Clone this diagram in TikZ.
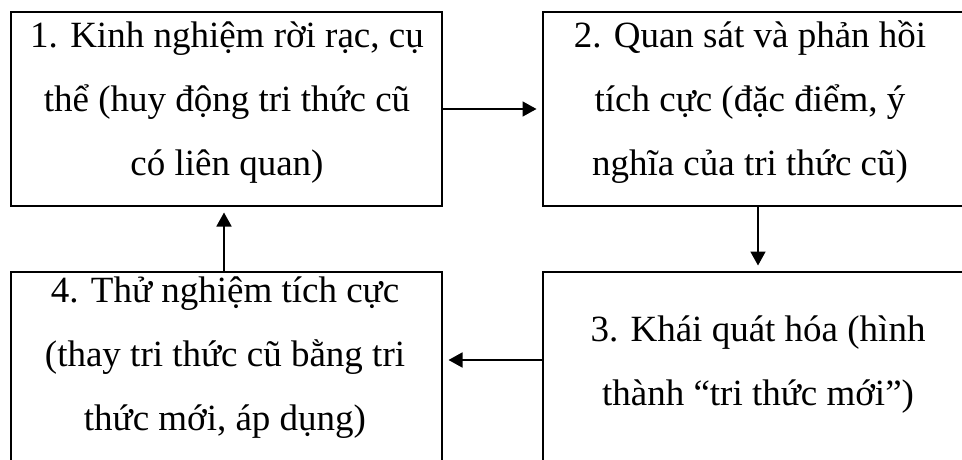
\documentclass[tikz,border=0pt]{standalone}
\usepackage{fontspec}
\setmainfont{Liberation Serif}
\usetikzlibrary{arrows.meta}
\begin{document}
\begin{tikzpicture}[x=1pt,y=-1pt,
  stagebox/.style={draw, line width=2pt, rectangle, inner sep=0pt, outer sep=0pt, anchor=north west},
  stagetext/.style={align=center, inner sep=0pt, anchor=base, font=\fontsize{37}{64}\selectfont},
  flow/.style={line width=1.8pt, -{Triangle[length=14pt,width=15pt]}, shorten >=6.5pt}]
\useasboundingbox (0,0) rectangle (962,460);
\fill[white] (0,0) rectangle (962,460);
\clip (0,0) rectangle (962,460);

% the four stages of the cycle
\node[stagebox, minimum width=431pt, minimum height=194pt] (b1) at (11,12) {};
\node[stagebox, minimum width=430pt, minimum height=194pt] (b2) at (543,12) {};
\node[stagebox, minimum width=430pt, minimum height=200pt] (b3) at (543,272) {};
\node[stagebox, minimum width=431pt, minimum height=200pt] (b4) at (11,272) {};

% texts, placed by the baseline of their last line
\node[stagetext] (t1) at (227,175) {1. Kinh nghiệm rời rạc, cụ\\thể (huy động tri thức cũ\\có liên quan)};
\node[stagetext] (t2) at (750,175) {2. Quan sát và phản hồi\\tích cực (đặc điểm, ý\\nghĩa của tri thức cũ)};
\node[stagetext] (t3) at (758,405) {3. Khái quát hóa (hình\\thành “tri thức mới”)};
\node[stagetext] (t4) at (225,430) {4. Thử nghiệm tích cực\\(thay tri thức cũ bằng tri\\thức mới, áp dụng)};

% connectors
\path (b2.south west) ++(215,0) coordinate (c23);
\path (b3.north west) ++(0,88) coordinate (c34);
\path (b4.north west) ++(213,0) coordinate (c41);

\draw[flow] (b1.east) -- (b2.west);
\draw[flow] (c23) -- (c23 |- b3.north);
\draw[flow] (c34) -- (c34 -| b4.east);
\draw[flow] (c41) -- (c41 |- b1.south);
\end{tikzpicture}
\end{document}
